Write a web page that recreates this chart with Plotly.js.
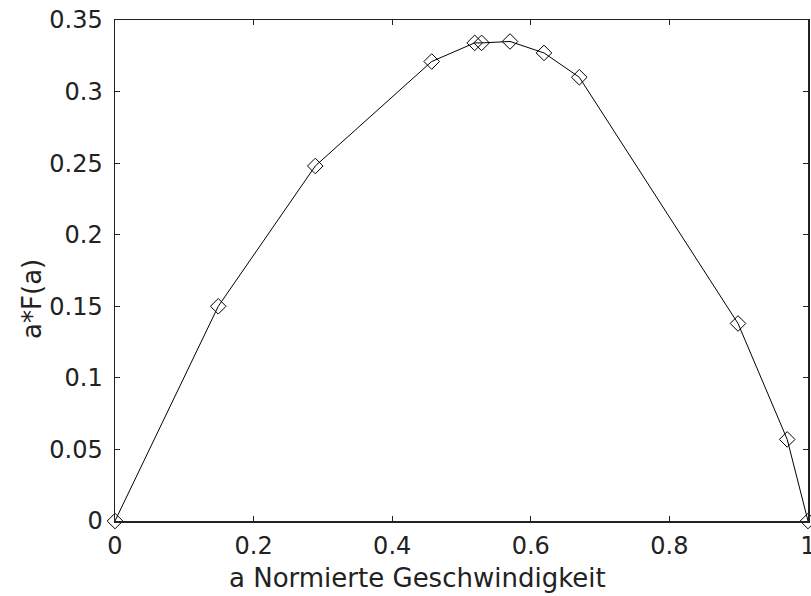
<!DOCTYPE html>
<html>
<head>
<meta charset="utf-8">
<script src="https://cdn.plot.ly/plotly-3.0.1.min.js"></script>
<style>html,body{margin:0;padding:0;background:#fff;}#chart{width:811px;height:596px;}</style>
</head>
<body>
<div id="chart"></div>
<script>
var aValues = [0, 0.149, 0.289, 0.457, 0.519, 0.529, 0.570, 0.619, 0.670, 0.899, 0.970, 1.0];
var aFValues = [0, 0.150, 0.248, 0.321, 0.334, 0.334, 0.335, 0.327, 0.310, 0.138, 0.057, 0];
var xTicks = [0, 0.2, 0.4, 0.6, 0.8, 1];
var xTickLabels = ['0', '0.2', '0.4', '0.6', '0.8', '1'];
var yTicks = [0, 0.05, 0.1, 0.15, 0.2, 0.25, 0.3, 0.35];
var yTickLabels = ['0', '0.05', '0.1', '0.15', '0.2', '0.25', '0.3', '0.35'];
var xTitle = 'a Normierte Geschwindigkeit';
var yTitle = 'a*F(a)';

var trace = {
  x: aValues,
  y: aFValues,
  mode: 'lines+markers',
  type: 'scatter',
  line: {color: '#000', width: 1},
  marker: {symbol: 'diamond-open', size: 12, color: '#000', line: {color: '#000', width: 1}},
  cliponaxis: false,
  showlegend: false
};

var font = {family: 'DejaVu Sans, Arial, sans-serif', size: 24, color: '#222'};
var titleFont = {family: 'DejaVu Sans, Arial, sans-serif', size: 26, color: '#222'};

var layout = {
  width: 811, height: 596,
  margin: {l: 115, r: 3, t: 20, b: 75},
  paper_bgcolor: '#fff', plot_bgcolor: '#fff',
  font: font,
  xaxis: {
    range: [0, 1], tickvals: xTicks, ticktext: xTickLabels,
    ticks: 'inside', ticklen: 5, tickcolor: '#222', tickwidth: 1,
    showline: true, linecolor: '#222', linewidth: 1.5, mirror: 'ticks',
    showgrid: false, zeroline: false,
    tickfont: font, ticklabelstandoff: 3, ticklabeloverflow: 'allow'
  },
  yaxis: {
    range: [0, 0.35], tickvals: yTicks, ticktext: yTickLabels,
    ticks: 'inside', ticklen: 5, tickcolor: '#222', tickwidth: 1,
    showline: true, linecolor: '#222', linewidth: 1.5, mirror: 'ticks',
    showgrid: false, zeroline: false,
    tickfont: font, ticklabelstandoff: 6
  },
  annotations: [
    {text: xTitle, xref: 'paper', yref: 'paper', x: 0.436, y: -0.114,
     xanchor: 'center', yanchor: 'middle', showarrow: false, font: titleFont},
    {text: yTitle, xref: 'paper', yref: 'paper', x: -0.12, y: 0.443, textangle: -90,
     xanchor: 'center', yanchor: 'middle', showarrow: false, font: titleFont}
  ]
};

Plotly.newPlot('chart', [trace], layout, {displayModeBar: false, staticPlot: true});
</script>
</body>
</html>
